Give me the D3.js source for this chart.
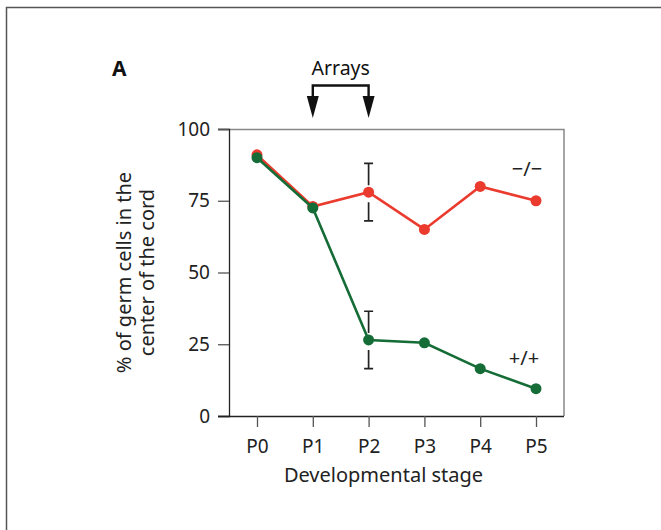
<!DOCTYPE html>
<html>
<head>
<meta charset="utf-8">
<script src="https://cdn.jsdelivr.net/npm/d3@7"></script>
<style>
  body { margin: 0; background: #fff; }
  svg { display: block; font-family: "Noto Sans", sans-serif; }
</style>
</head>
<body>
<svg id="chart" width="661" height="530"></svg>
<script>
const stages = ["P0", "P1", "P2", "P3", "P4", "P5"];
const knockout = [91, 73, 78, 65, 80, 75];          // −/−
const wildType = [90, 72.5, 26.5, 25.5, 16.5, 9.5]; // +/+
const errorBars = [
    { stage: "P2", value: 78, err: 10 },
    { stage: "P2", value: 26.5, err: 10 }
];
const yTicks = [0, 25, 50, 75, 100];

const svg = d3.select("#chart");
const margin = { top: 129, right: 97, bottom: 114, left: 229 };
const width = 661 - margin.left - margin.right;
const height = 530 - margin.top - margin.bottom;

const red = "#eb3a2e";
const green = "#156c37";
const ink = "#222";

// outer frame
svg.append("path")
    .attr("d", "M6.5,530 V7.5 H661")
    .attr("fill", "none")
    .attr("stroke", "#555")
    .attr("stroke-width", 1.5);

const g = svg.append("g")
    .attr("transform", `translate(${margin.left},${margin.top})`);

const x = d3.scalePoint().domain(stages).range([28, 307]);
const y = d3.scaleLinear().domain([0, 100]).range([height, 0]);

// top and right box lines (grey)
g.append("path")
    .attr("d", `M-11,0.5 H${width} V${height}`)
    .attr("fill", "none")
    .attr("stroke", "#888")
    .attr("stroke-width", 1.5);

const yAxis = g.append("g")
    .call(d3.axisLeft(y).tickValues(yTicks).tickSize(11).tickPadding(8));
yAxis.select(".domain").attr("stroke", ink).attr("stroke-width", 1.3);
yAxis.selectAll(".tick line").attr("stroke", "#555").attr("stroke-width", 1.3);
yAxis.selectAll(".tick text")
    .style("font-size", "19px").style("font-family", "Noto Sans").attr("fill", ink);

const xAxis = g.append("g")
    .attr("transform", `translate(0,${height})`)
    .call(d3.axisBottom(x).tickSize(11).tickPadding(13));
xAxis.select(".domain").attr("d", `M-11,0.5H${width}`)
    .attr("stroke", ink).attr("stroke-width", 1.3);
xAxis.selectAll(".tick line").attr("stroke", "#555").attr("stroke-width", 1.3);
xAxis.selectAll(".tick text")
    .style("font-size", "19px").style("font-family", "Noto Sans").attr("fill", ink);

// error bars, broken around the point
errorBars.forEach(e => {
    const cx = x(e.stage);
    const cy = y(e.value);
    const top = y(e.value + e.err), bot = y(e.value - e.err);
    g.append("path")
        .attr("d", `M${cx - 4.5},${top} H${cx + 4.5} M${cx},${top} V${cy - 7}` +
                   ` M${cx},${cy + 10} V${bot} M${cx - 4.5},${bot} H${cx + 4.5}`)
        .attr("fill", "none")
        .attr("stroke", ink)
        .attr("stroke-width", 1.7);
});

const line = d3.line()
    .x((d, i) => x(stages[i]))
    .y(d => y(d));

function drawSeries(values, color) {
    g.append("path")
        .datum(values)
        .attr("fill", "none")
        .attr("stroke", color)
        .attr("stroke-width", 2.6)
        .attr("d", line);
    g.selectAll(null)
        .data(values)
        .enter()
        .append("circle")
        .attr("cx", (d, i) => x(stages[i]))
        .attr("cy", d => y(d))
        .attr("r", 5.5)
        .attr("fill", color);
}

drawSeries(knockout, red);
drawSeries(wildType, green);

// series labels
g.append("text")
    .attr("x", 298).attr("y", 47)
    .attr("text-anchor", "middle")
    .attr("font-size", 20).attr("fill", ink)
    .text("−/−");
g.append("text")
    .attr("x", 295).attr("y", 236)
    .attr("text-anchor", "middle")
    .attr("font-size", 20).attr("fill", ink)
    .text("+/+");

// axis titles
g.append("text")
    .attr("x", width / 2 - 13)
    .attr("y", height + 66)
    .attr("text-anchor", "middle")
    .attr("font-size", 20).attr("fill", ink)
    .text("Developmental stage");

const yTitle = g.append("text")
    .attr("transform", `translate(-98,${height / 2}) rotate(-90)`)
    .attr("text-anchor", "middle")
    .attr("font-size", 20).attr("fill", ink);
yTitle.append("tspan").attr("x", 0).attr("dy", 0).text("% of germ cells in the");
yTitle.append("tspan").attr("x", 0).attr("dy", 23).text("center of the cord");

// panel letter
svg.append("text")
    .attr("x", 112).attr("y", 76)
    .attr("font-size", 21).attr("font-weight", "bold").attr("fill", "#111")
    .text("A");

// "Arrays" bracket
const a1 = margin.left + x("P1"), a2 = margin.left + x("P2");
svg.append("text")
    .attr("x", (a1 + a2) / 2).attr("y", 75)
    .attr("text-anchor", "middle")
    .attr("font-size", 19.5).attr("fill", "#111")
    .text("Arrays");
svg.append("path")
    .attr("d", `M${a1},101 V85.5 H${a2} V101`)
    .attr("fill", "none")
    .attr("stroke", "#111")
    .attr("stroke-width", 2.4);
[a1, a2].forEach(ax => {
    svg.append("path")
        .attr("d", `M${ax - 6},96 L${ax + 6},96 L${ax},118 Z`)
        .attr("fill", "#111");
});
</script>
</body>
</html>
